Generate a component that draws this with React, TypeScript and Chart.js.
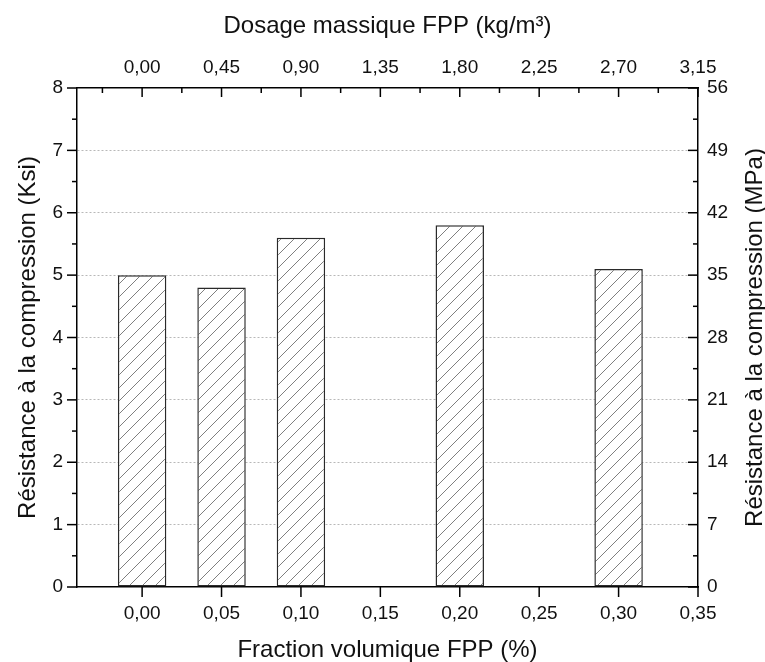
import { useEffect, useRef } from 'react';
import { Chart, registerables } from 'chart.js';

Chart.register(...registerables);

// ---- data ----
const fractions = [0.0, 0.05, 0.1, 0.2, 0.3];
const strengthKsi = [5.0, 4.8, 5.6, 5.8, 5.1];

const fractionTicks = [0, 0.05, 0.1, 0.15, 0.2, 0.25, 0.3, 0.35];
const dosageTicks = [0, 0.45, 0.9, 1.35, 1.8, 2.25, 2.7, 3.15];
const ksiTicks = [0, 1, 2, 3, 4, 5, 6, 7, 8];
const mpaTicks = [0, 7, 14, 21, 28, 35, 42, 49, 56];

const xTitle = 'Fraction volumique FPP (%)';
const x2Title = 'Dosage massique FPP (kg/m³)';
const yTitle = 'Résistance à la compression (Ksi)';
const y2Title = 'Résistance à la compression (MPa)';

const FRACTION_MIN = -0.041;
const FRACTION_MAX = 0.35;
const DOSAGE_MIN = -0.369;
const DOSAGE_MAX = 3.15;

const FONT = "'Liberation Sans', Arial, sans-serif";

const comma2 = (v: number) => v.toFixed(2).replace('.', ',');

function makeHatch(): CanvasPattern | string {
  const s = 13;
  const c = document.createElement('canvas');
  c.width = s;
  c.height = s;
  const g = c.getContext('2d');
  if (!g) return '#fff';
  g.fillStyle = '#ffffff';
  g.fillRect(0, 0, s, s);
  g.strokeStyle = '#707070';
  g.lineWidth = 0.9;
  g.beginPath();
  g.moveTo(0, s);
  g.lineTo(s, 0);
  g.moveTo(-2, 2);
  g.lineTo(2, -2);
  g.moveTo(s - 2, s + 2);
  g.lineTo(s + 2, s - 2);
  g.stroke();
  return g.createPattern(c, 'repeat') || '#fff';
}

const setTicks = (values: number[]) => (scale: any) => {
  scale.ticks = values.map((v) => ({ value: v }));
};

const axisDecor = {
  id: 'axisDecor',
  afterDraw(chart: any) {
    const ctx = chart.ctx as CanvasRenderingContext2D;
    const area = chart.chartArea;
    const { x, x2, y, y2 } = chart.scales;
    ctx.save();
    ctx.strokeStyle = '#000';
    ctx.lineWidth = 1.5;
    const MAJ = 10;
    const MIN = 5;
    const line = (a: number, b: number, c: number, d: number) => {
      ctx.beginPath();
      ctx.moveTo(a, b);
      ctx.lineTo(c, d);
      ctx.stroke();
    };
    // left axis: outward ticks, majors and minors
    for (let i = 0; i < ksiTicks.length; i++) {
      const p = y.getPixelForValue(ksiTicks[i]);
      line(area.left - MAJ, p, area.left, p);
      if (i < ksiTicks.length - 1) {
        const m = y.getPixelForValue((ksiTicks[i] + ksiTicks[i + 1]) / 2);
        line(area.left - MIN, m, area.left, m);
      }
    }
    // right axis: inward ticks
    for (let i = 0; i < mpaTicks.length; i++) {
      const p = y2.getPixelForValue(mpaTicks[i]);
      line(area.right - MAJ, p, area.right, p);
      if (i < mpaTicks.length - 1) {
        const m = y2.getPixelForValue((mpaTicks[i] + mpaTicks[i + 1]) / 2);
        line(area.right - MIN, m, area.right, m);
      }
    }
    // bottom axis: outward majors
    for (const v of fractionTicks) {
      const p = x.getPixelForValue(v);
      line(p, area.bottom, p, area.bottom + MAJ);
    }
    // top axis: inward majors and minors
    for (let i = 0; i < dosageTicks.length; i++) {
      const p = x2.getPixelForValue(dosageTicks[i]);
      line(p, area.top, p, area.top + MAJ - 1);
      const prev = i === 0 ? dosageTicks[0] - (dosageTicks[1] - dosageTicks[0]) : dosageTicks[i - 1];
      const mv = (prev + dosageTicks[i]) / 2;
      if (mv >= DOSAGE_MIN) {
        const m = x2.getPixelForValue(mv);
        line(m, area.top, m, area.top + MIN);
      }
    }
    // right title (reads bottom to top)
    ctx.fillStyle = '#111';
    ctx.font = `24px ${FONT}`;
    ctx.textAlign = 'center';
    ctx.textBaseline = 'middle';
    ctx.translate(755, (area.top + area.bottom) / 2);
    ctx.rotate(-Math.PI / 2);
    ctx.fillText(y2Title, 0, 0);
    ctx.restore();
  },
};

export default function App() {
  const ref = useRef<HTMLCanvasElement | null>(null);

  useEffect(() => {
    document.body.style.margin = '0';
    const canvas = ref.current;
    if (!canvas) return;
    const hatch = makeHatch();
    const tickFont = { family: FONT, size: 19 };
    const titleFont = { family: FONT, size: 24, lineHeight: 1 };
    const chart = new Chart(canvas, {
      type: 'bar',
      data: {
        datasets: [
          {
            label: yTitle,
            data: fractions.map((f, i) => ({ x: f, y: strengthKsi[i] })),
            backgroundColor: hatch as any,
            borderColor: '#2a2a2a',
            borderWidth: 1.5,
            borderSkipped: false,
            barPercentage: 0.61,
            categoryPercentage: 1,
            xAxisID: 'x',
            yAxisID: 'y',
          },
        ],
      },
      options: {
        animation: false,
        responsive: false,
        maintainAspectRatio: false,
        layout: { padding: 0 },
        plugins: {
          legend: { display: false },
          tooltip: { enabled: false },
        },
        scales: {
          x: {
            type: 'linear',
            position: 'bottom',
            min: FRACTION_MIN,
            max: FRACTION_MAX,
            offset: false,
            afterBuildTicks: setTicks(fractionTicks),
            afterFit: (s: any) => {
              s.height = 75;
            },
            grid: { display: false, drawTicks: false, offset: false },
            border: { display: true, color: '#000', width: 1.5 },
            ticks: {
              color: '#111',
              font: tickFont,
              padding: 15,
              maxRotation: 0,
              autoSkip: false,
              callback: (v: any) => comma2(Number(v)),
            },
            title: {
              display: true,
              text: xTitle,
              color: '#111',
              font: titleFont,
              padding: { top: 0, bottom: 0 },
            },
          },
          x2: {
            type: 'linear',
            position: 'top',
            min: DOSAGE_MIN,
            max: DOSAGE_MAX,
            offset: false,
            afterBuildTicks: setTicks(dosageTicks),
            afterFit: (s: any) => {
              s.height = 88;
            },
            grid: { display: false, drawTicks: false },
            border: { display: true, color: '#000', width: 1.5 },
            ticks: {
              color: '#111',
              font: tickFont,
              padding: 9,
              maxRotation: 0,
              autoSkip: false,
              callback: (v: any) => comma2(Number(v)),
            },
            title: {
              display: true,
              text: x2Title,
              color: '#111',
              font: titleFont,
              padding: { top: 14, bottom: 0 },
            },
          },
          y: {
            type: 'linear',
            position: 'left',
            min: 0,
            max: 8,
            afterBuildTicks: setTicks(ksiTicks),
            afterFit: (s: any) => {
              s.width = 77;
            },
            grid: {
              display: true,
              drawTicks: false,
              lineWidth: 1,
              color: (c: any) =>
                c.tick && (c.tick.value === 0 || c.tick.value === 8) ? 'rgba(0,0,0,0)' : '#b8b8b8',
            },
            border: { display: true, color: '#000', width: 1.5, dash: [2, 2] },
            ticks: {
              color: '#111',
              font: tickFont,
              padding: 14,
              callback: (v: any) => String(v),
            },
            title: {
              display: true,
              text: yTitle,
              color: '#111',
              font: titleFont,
              padding: { top: 16, bottom: 0 },
            },
          },
          y2: {
            type: 'linear',
            position: 'right',
            min: 0,
            max: 56,
            afterBuildTicks: setTicks(mpaTicks),
            afterFit: (s: any) => {
              s.width = 67;
            },
            grid: { display: false, drawTicks: false },
            border: { display: true, color: '#000', width: 1.5 },
            ticks: {
              color: '#111',
              font: tickFont,
              padding: 9,
              callback: (v: any) => String(v),
            },
          },
        },
      },
      plugins: [axisDecor],
    });
    return () => chart.destroy();
  }, []);

  return (
    <div style={{ width: 765, height: 662 }}>
      <canvas ref={ref} width={765} height={662} style={{ display: 'block' }} />
    </div>
  );
}
